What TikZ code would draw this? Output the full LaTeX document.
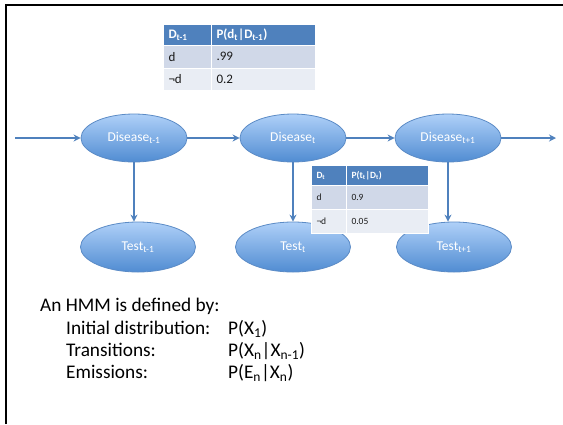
\documentclass[tikz,border=0pt]{standalone}
\usepackage{fontspec}
\setmainfont{Carlito}
\usetikzlibrary{shapes.geometric,arrows.meta}
\definecolor{arrowblue}{HTML}{4F81BD}
\definecolor{edgeblue}{HTML}{5B8BC6}
\definecolor{toplight}{HTML}{AFD0F8}
\definecolor{botdark}{HTML}{508CD2}
\definecolor{hdrblue}{HTML}{4F81BD}
\definecolor{rowA}{HTML}{D0D8E8}
\definecolor{rowB}{HTML}{E9EDF4}
\definecolor{bodytext}{HTML}{1A1A1A}
\begin{document}
\begin{tikzpicture}[x=1pt,y=-1pt,
  blob/.style={ellipse, draw=edgeblue, line width=0.8pt, top color=toplight, bottom color=botdark,
    text=white, inner sep=0pt, font=\fontsize{13.5}{15}\selectfont},
  dis/.style={blob, minimum width=106pt, minimum height=48pt},
  tst/.style={blob, minimum width=115pt, minimum height=50pt},
  link/.style={draw=arrowblue, line width=1.8pt, -{Stealth[length=7pt,width=7pt]}},
  cell/.style={rectangle, draw=white, line width=1pt, anchor=north west, inner xsep=5pt, inner ysep=0pt, align=left},
  hdrA/.style={cell, fill=hdrblue, text=white, font=\fontsize{13}{15}\selectfont\bfseries},
  raA/.style={cell, fill=rowA, text=bodytext, font=\fontsize{13}{15}\selectfont},
  rbA/.style={cell, fill=rowB, text=bodytext, font=\fontsize{13}{15}\selectfont},
  hdrB/.style={cell, fill=hdrblue, text=white, font=\fontsize{9.5}{11}\selectfont\bfseries},
  raB/.style={cell, fill=rowA, text=bodytext, font=\fontsize{9.5}{11}\selectfont},
  rbB/.style={cell, fill=rowB, text=bodytext, font=\fontsize{9.5}{11}\selectfont},
  big/.style={anchor=base west, inner sep=0pt, font=\fontsize{19.3}{22}\selectfont}
]
\useasboundingbox (0,0) rectangle (563,424);
\fill[white] (0,0) rectangle (563,424);
% frame
\draw[line width=2.2pt] (6,424) -- (6,5) -- (563,5);

% table 1
\node[hdrA, minimum width=48pt, minimum height=21pt, text width=38pt] (a11) at (163,24) {D\textsubscript{t-1}};
\node[hdrA, minimum width=104pt, minimum height=21pt, text width=94pt] (a12) at (211,24) {P(d\textsubscript{t}|D\textsubscript{t-1})};
\node[raA, minimum width=48pt, minimum height=22.5pt, text width=38pt] (a21) at (163,45) {d};
\node[raA, minimum width=104pt, minimum height=22.5pt, text width=94pt] (a22) at (211,45) {.99};
\node[rbA, minimum width=48pt, minimum height=22.5pt, text width=38pt] (a31) at (163,67.5) {¬d};
\node[rbA, minimum width=104pt, minimum height=22.5pt, text width=94pt] (a32) at (211,67.5) {0.2};

% nodes
\node[dis] (d1) at (134,138) {Disease\textsubscript{t-1}};
\node[dis] (d2) at (293,138) {Disease\textsubscript{t}};
\node[dis] (d3) at (448,138) {Disease\textsubscript{t+1}};
\node[tst] (t1) at (138,247) {Test\textsubscript{t-1}};
\node[tst] (t2) at (293,247) {Test\textsubscript{t}};
\node[tst] (t3) at (454,247) {Test\textsubscript{t+1}};

\coordinate (in) at (15,138);
\coordinate (out) at (556,138);
\draw[link] (in) -- (d1.west);
\draw[link] (d1.east) -- (d2.west);
\draw[link] (d2.east) -- (d3.west);
\draw[link] (d3.east) -- (out);
\draw[link] (d1.south) -- (d1.south |- t1.north);
\draw[link] (d2.south) -- (d2.south |- t2.north);
\draw[link] (d3.south) -- (d3.south |- t3.north);

% table 2
\node[hdrB, minimum width=35pt, minimum height=20pt, text width=25pt] (b11) at (311,165) {D\textsubscript{t}};
\node[hdrB, minimum width=82pt, minimum height=20pt, text width=72pt] (b12) at (346,165) {P(t\textsubscript{t}|D\textsubscript{t})};
\node[raB, minimum width=35pt, minimum height=24pt, text width=25pt] (b21) at (311,185) {d};
\node[raB, minimum width=82pt, minimum height=24pt, text width=72pt] (b22) at (346,185) {0.9};
\node[rbB, minimum width=35pt, minimum height=24pt, text width=25pt] (b31) at (311,209) {¬d};
\node[rbB, minimum width=82pt, minimum height=24pt, text width=72pt] (b32) at (346,209) {0.05};

% text
\node[big] (l0) at (40,311) {An HMM is defined by:};
\node[big] (l1) at (66,334) {Initial distribution:};
\node[big] (l2) at (66,356) {Transitions:};
\node[big] (l3) at (66,378) {Emissions:};
\node[big] (r1) at (228,334) {P(X\textsubscript{1})};
\node[big] (r2) at (228,356) {P(X\textsubscript{n}|X\textsubscript{n-1})};
\node[big] (r3) at (228,378) {P(E\textsubscript{n}|X\textsubscript{n})};
\end{tikzpicture}
\end{document}
